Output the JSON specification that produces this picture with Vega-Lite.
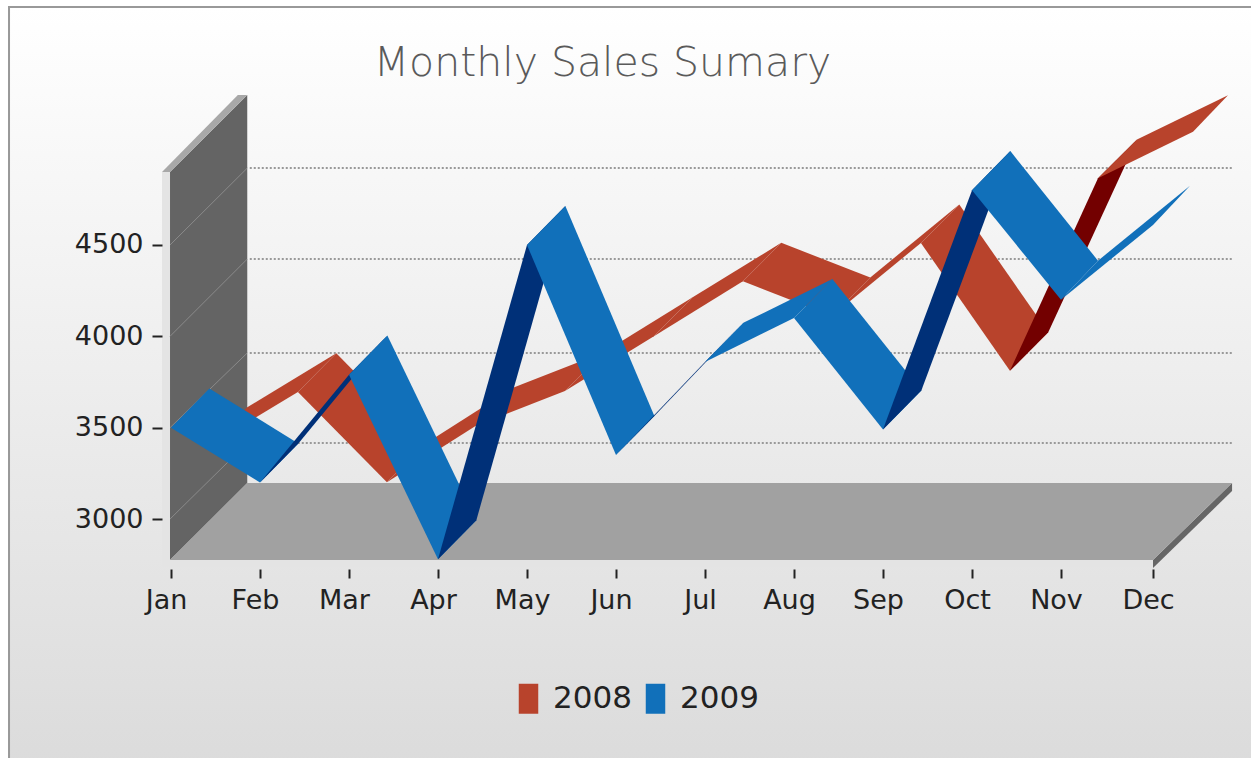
{"$schema":"https://vega.github.io/schema/vega-lite/v6.json","width":1251,"height":758,"padding":0,"autosize":{"type":"none"},"background":"white","config":{"view":{"stroke":null},"font":"DejaVu Sans"},
"title":{"text":"Monthly Sales Sumary","font":"DejaVu Sans","fontSize":41,"fontWeight":200,"color":"#5a5a5a","anchor":"middle","baseline":"alphabetic","dx":-23,"offset":-117},
"datasets":{
"frame":[{"month":-1.82,"month2":12.2,"sales":5803,"sales2":1626}],
"scene":[
{"part":"strip","poly":"strip","o":1,"month":-0.101,"sales":4900},{"part":"strip","poly":"strip","o":2,"month":-0.011,"sales":4900},{"part":"strip","poly":"strip","o":3,"month":-0.011,"sales":2776},{"part":"strip","poly":"strip","o":4,"month":11,"sales":2776},{"part":"strip","poly":"strip","o":5,"month":11,"sales":2737},{"part":"strip","poly":"strip","o":6,"month":-0.101,"sales":2737},
{"part":"wall","poly":"wall","o":1,"month":-0.011,"sales":2776},{"part":"wall","poly":"wall","o":2,"month":-0.011,"sales":4900},{"part":"wall","poly":"wall","o":3,"month":0.857,"sales":5321},{"part":"wall","poly":"wall","o":4,"month":0.857,"sales":3197},
{"part":"cap","poly":"cap","o":1,"month":-0.101,"sales":4900},{"part":"cap","poly":"cap","o":2,"month":0.751,"sales":5321},{"part":"cap","poly":"cap","o":3,"month":0.857,"sales":5321},{"part":"cap","poly":"cap","o":4,"month":-0.011,"sales":4900},
{"part":"edge","poly":"edge","o":1,"month":11,"sales":2776},{"part":"edge","poly":"edge","o":2,"month":11.859,"sales":3197},{"part":"edge","poly":"edge","o":3,"month":11.859,"sales":3153},{"part":"edge","poly":"edge","o":4,"month":11,"sales":2732},
{"part":"floor","poly":"floor","o":1,"month":-0.011,"sales":2776},{"part":"floor","poly":"floor","o":2,"month":11,"sales":2776},{"part":"floor","poly":"floor","o":3,"month":11.859,"sales":3197},{"part":"floor","poly":"floor","o":4,"month":0.857,"sales":3197}
],
"walllines":[{"month":-0.011,"month2":0.857,"sales":3000,"sales2":3416},{"month":-0.011,"month2":0.857,"sales":3500,"sales2":3909},{"month":-0.011,"month2":0.857,"sales":4000,"sales2":4423},{"month":-0.011,"month2":0.857,"sales":4500,"sales2":4921}],
"grid":[{"month":0.885,"month2":11.859,"sales":3416},{"month":0.885,"month2":11.859,"sales":3909},{"month":0.885,"month2":11.859,"sales":4423},{"month":0.885,"month2":11.859,"sales":4921}],
"ribbons":[
{"part":"2008","poly":"r0","o":1,"month":0.426,"sales":3401},{"part":"2008","poly":"r0","o":2,"month":1.426,"sales":3696},{"part":"2008","poly":"r0","o":3,"month":1.857,"sales":3907},{"part":"2008","poly":"r0","o":4,"month":0.857,"sales":3612},
{"part":"2008","poly":"r1","o":1,"month":1.426,"sales":3696},{"part":"2008","poly":"r1","o":2,"month":2.426,"sales":3201},{"part":"2008","poly":"r1","o":3,"month":2.857,"sales":3412},{"part":"2008","poly":"r1","o":4,"month":1.857,"sales":3907},
{"part":"2008","poly":"r2","o":1,"month":2.426,"sales":3201},{"part":"2008","poly":"r2","o":2,"month":3.426,"sales":3511},{"part":"2008","poly":"r2","o":3,"month":3.857,"sales":3722},{"part":"2008","poly":"r2","o":4,"month":2.857,"sales":3412},
{"part":"2008","poly":"r3","o":1,"month":3.426,"sales":3511},{"part":"2008","poly":"r3","o":2,"month":4.426,"sales":3701},{"part":"2008","poly":"r3","o":3,"month":4.857,"sales":3912},{"part":"2008","poly":"r3","o":4,"month":3.857,"sales":3722},
{"part":"2008","poly":"r4","o":1,"month":4.426,"sales":3701},{"part":"2008","poly":"r4","o":2,"month":5.426,"sales":4001},{"part":"2008","poly":"r4","o":3,"month":5.857,"sales":4212},{"part":"2008","poly":"r4","o":4,"month":4.857,"sales":3912},
{"part":"2008","poly":"r5","o":1,"month":5.426,"sales":4001},{"part":"2008","poly":"r5","o":2,"month":6.426,"sales":4301},{"part":"2008","poly":"r5","o":3,"month":6.857,"sales":4512},{"part":"2008","poly":"r5","o":4,"month":5.857,"sales":4212},
{"part":"2008","poly":"r6","o":1,"month":6.426,"sales":4301},{"part":"2008","poly":"r6","o":2,"month":7.426,"sales":4111},{"part":"2008","poly":"r6","o":3,"month":7.857,"sales":4322},{"part":"2008","poly":"r6","o":4,"month":6.857,"sales":4512},
{"part":"2008","poly":"r7","o":1,"month":7.426,"sales":4111},{"part":"2008","poly":"r7","o":2,"month":8.426,"sales":4511},{"part":"2008","poly":"r7","o":3,"month":8.857,"sales":4722},{"part":"2008","poly":"r7","o":4,"month":7.857,"sales":4322},
{"part":"2008","poly":"r8","o":1,"month":8.426,"sales":4511},{"part":"2008","poly":"r8","o":2,"month":9.426,"sales":3811},{"part":"2008","poly":"r8","o":3,"month":9.857,"sales":4022},{"part":"2008","poly":"r8","o":4,"month":8.857,"sales":4722},
{"part":"2008 under","poly":"r9","o":1,"month":9.426,"sales":3811},{"part":"2008 under","poly":"r9","o":2,"month":10.402,"sales":4866},{"part":"2008 under","poly":"r9","o":3,"month":10.826,"sales":5077},{"part":"2008 under","poly":"r9","o":4,"month":9.857,"sales":4022},
{"part":"2008","poly":"r10","o":1,"month":10.402,"sales":4866},{"part":"2008","poly":"r10","o":2,"month":11.435,"sales":5120},{"part":"2008","poly":"r10","o":3,"month":11.815,"sales":5320},{"part":"2008","poly":"r10","o":4,"month":10.826,"sales":5077},
{"part":"2009","poly":"b0","o":1,"month":0,"sales":3500},{"part":"2009","poly":"b0","o":2,"month":1,"sales":3200},{"part":"2009","poly":"b0","o":3,"month":1.431,"sales":3414},{"part":"2009","poly":"b0","o":4,"month":0.431,"sales":3714},
{"part":"2009 under","poly":"b1","o":1,"month":1,"sales":3200},{"part":"2009 under","poly":"b1","o":2,"month":2,"sales":3790},{"part":"2009 under","poly":"b1","o":3,"month":2.431,"sales":4004},{"part":"2009 under","poly":"b1","o":4,"month":1.431,"sales":3414},
{"part":"2009","poly":"b2","o":1,"month":2,"sales":3790},{"part":"2009","poly":"b2","o":2,"month":3,"sales":2780},{"part":"2009","poly":"b2","o":3,"month":3.431,"sales":2994},{"part":"2009","poly":"b2","o":4,"month":2.431,"sales":4004},
{"part":"2009 under","poly":"b3","o":1,"month":3,"sales":2780},{"part":"2009 under","poly":"b3","o":2,"month":4,"sales":4500},{"part":"2009 under","poly":"b3","o":3,"month":4.431,"sales":4714},{"part":"2009 under","poly":"b3","o":4,"month":3.431,"sales":2994},
{"part":"2009","poly":"b4","o":1,"month":4,"sales":4500},{"part":"2009","poly":"b4","o":2,"month":5,"sales":3350},{"part":"2009","poly":"b4","o":3,"month":5.431,"sales":3564},{"part":"2009","poly":"b4","o":4,"month":4.431,"sales":4714},
{"part":"2009 under","poly":"b5","o":1,"month":5,"sales":3350},{"part":"2009 under","poly":"b5","o":2,"month":6,"sales":3860},{"part":"2009 under","poly":"b5","o":3,"month":6.431,"sales":4074},{"part":"2009 under","poly":"b5","o":4,"month":5.431,"sales":3564},
{"part":"2009","poly":"b6","o":1,"month":6,"sales":3860},{"part":"2009","poly":"b6","o":2,"month":7,"sales":4100},{"part":"2009","poly":"b6","o":3,"month":7.431,"sales":4314},{"part":"2009","poly":"b6","o":4,"month":6.431,"sales":4074},
{"part":"2009","poly":"b7","o":1,"month":7,"sales":4100},{"part":"2009","poly":"b7","o":2,"month":8,"sales":3490},{"part":"2009","poly":"b7","o":3,"month":8.431,"sales":3704},{"part":"2009","poly":"b7","o":4,"month":7.431,"sales":4314},
{"part":"2009 under","poly":"b8","o":1,"month":8,"sales":3490},{"part":"2009 under","poly":"b8","o":2,"month":9,"sales":4800},{"part":"2009 under","poly":"b8","o":3,"month":9.431,"sales":5014},{"part":"2009 under","poly":"b8","o":4,"month":8.431,"sales":3704},
{"part":"2009","poly":"b9","o":1,"month":9,"sales":4800},{"part":"2009","poly":"b9","o":2,"month":10,"sales":4200},{"part":"2009","poly":"b9","o":3,"month":10.402,"sales":4414},{"part":"2009","poly":"b9","o":4,"month":9.431,"sales":5014},
{"part":"2009","poly":"b10","o":1,"month":10,"sales":4200},{"part":"2009","poly":"b10","o":2,"month":11,"sales":4610},{"part":"2009","poly":"b10","o":3,"month":11.402,"sales":4824},{"part":"2009","poly":"b10","o":4,"month":10.402,"sales":4414}
]},
"encoding":{
"x":{"field":"month","type":"quantitative","scale":{"domain":[-1.9213,10,11,12.065],"range":[0,1061,1153,1251],"nice":false,"zero":false},"axis":{"title":null,"grid":false,"domain":false,"orient":"bottom","offset":-189,"values":[0,1,2,3,4,5,6,7,8,9,10,11],"labelExpr":"['Jan','Feb','Mar','Apr','May','Jun','Jul','Aug','Sep','Oct','Nov','Dec'][datum.value]","tickSize":9,"tickWidth":2,"tickColor":"#222222","labelFontSize":27,"labelColor":"#222222","labelFont":"DejaVu Sans","labelPadding":9,"labelOffset":-5,"labelOverlap":false,"labelFlush":false,"labelBound":false,"zindex":1}},
"y":{"field":"sales","type":"quantitative","scale":{"domain":[1692,5841],"nice":false,"zero":false},"axis":{"title":null,"grid":false,"domain":false,"offset":-162,"values":[3000,3500,4000,4500],"format":"d","tickSize":10,"tickWidth":2,"tickColor":"#222222","labelFontSize":27,"labelColor":"#222222","labelFont":"DejaVu Sans","labelPadding":9,"labelOverlap":false,"labelFlush":false,"labelBound":false,"zindex":1}}
},
"layer":[
{"data":{"name":"frame"},"mark":{"type":"rect","stroke":"#999999","strokeWidth":2,"fill":{"gradient":"linear","x1":0,"y1":0,"x2":0,"y2":1,"stops":[{"offset":0,"color":"#ffffff"},{"offset":1,"color":"#dbdbdb"}]}},"encoding":{"x2":{"field":"month2"},"y2":{"field":"sales2"}}},
{"data":{"name":"scene"},"mark":{"type":"line","filled":true,"strokeWidth":0},"encoding":{"detail":{"field":"poly"},"order":{"field":"o"},"color":{"field":"part","type":"nominal"}}},
{"data":{"name":"walllines"},"mark":{"type":"rule","color":"#8a8a8a","strokeWidth":1},"encoding":{"x2":{"field":"month2"},"y2":{"field":"sales2"}}},
{"data":{"name":"grid"},"mark":{"type":"rule","color":"#999999","strokeWidth":2,"strokeDash":[2,2]},"encoding":{"x2":{"field":"month2"}}},
{"data":{"name":"ribbons"},"mark":{"type":"line","filled":true,"strokeWidth":0},"encoding":{"detail":{"field":"poly"},"order":{"field":"o"},"color":{"field":"part","type":"nominal","scale":{"domain":["2008","2009","2008 under","2009 under","wall","cap","strip","floor","edge"],"range":["#b8432c","#1170ba","#730000","#003078","#646464","#a8a8a8","#e4e4e4","#a1a1a1","#666666"]},"legend":{"title":null,"values":["2008","2009"],"orient":"none","legendX":513,"legendY":683,"direction":"horizontal","columns":2,"symbolType":"M-0.65,-1H0.65V1H-0.65Z","symbolSize":900,"symbolStrokeWidth":0,"labelFontSize":31,"labelFont":"DejaVu Sans","labelColor":"#222222","labelOffset":9,"columnPadding":8}}}}
]}
